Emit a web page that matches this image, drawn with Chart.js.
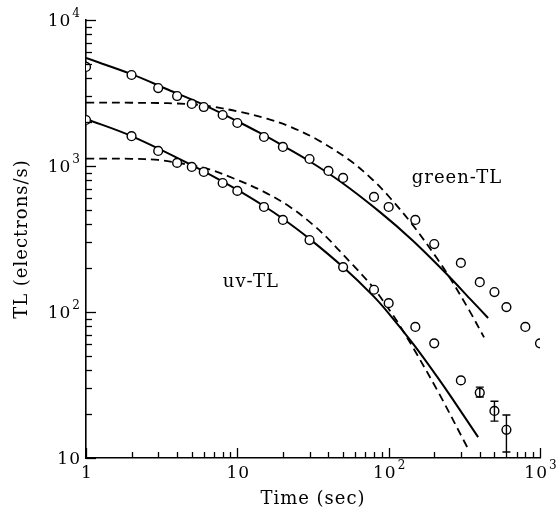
<!DOCTYPE html>
<html>
<head>
<meta charset="utf-8">
<title>TL decay</title>
<script src="https://cdn.jsdelivr.net/npm/chart.js@4.4.1/dist/chart.umd.min.js"></script>
<style>
    html, body { margin: 0; padding: 0; background: #fff; }
    #wrap { width: 557px; height: 511px; }
</style>
</head>
<body>
<div id="wrap"><canvas id="tl-chart"></canvas></div>
<script>
/* ===========================
   DATA
=========================== */

// measured green-TL (circles)
const greenTime = [1, 2, 3, 4, 5, 6, 8, 10, 15, 20, 30, 40, 50, 80, 100, 150, 200, 300, 400, 500, 600, 800, 1000];
const greenTL = [4770, 4200, 3420, 3015, 2660, 2535, 2235, 1970, 1580, 1350, 1117, 925, 828, 614, 524, 427, 292, 217, 160, 137, 108, 79, 61];

// measured uv-TL (circles)
const uvTime = [1, 2, 3, 4, 5, 6, 8, 10, 15, 20, 30, 50, 80, 100, 150, 200, 300, 400, 500, 600];
const uvTL = [2066, 1600, 1268, 1050, 985, 910, 765, 675, 524, 427, 311, 203, 142, 115, 79, 61, 34, 28, 21, 15.6];

// error bars on the late uv points
const uvErrTime = [400, 500, 600];
const uvErrLow = [26.2, 17.9, 11];
const uvErrHigh = [30.6, 24.5, 19.7];

// fitted curves (solid)
const greenFitTime = [1, 2, 3.5, 5.67, 10, 14.1, 20, 28.9, 47.7, 87.7, 144, 247, 345, 454];
const greenFit = [5490, 4256, 3327, 2692, 2025, 1683, 1379, 1105, 786, 483, 309, 178, 123, 91];
const uvFitTime = [1, 2, 5, 10, 15, 20, 30, 50, 79, 100, 146, 210, 266, 390];
const uvFit = [2100, 1602, 1013, 687, 532, 435, 317, 203, 129, 98, 60, 35.8, 25.1, 13.9];

// model curves (dashed)
const greenModelTime = [1, 2, 3, 4, 5.67, 7, 10.4, 15.7, 22, 33.6, 55.6, 79, 102, 144, 208, 254, 340, 427];
const greenModel = [2715, 2712, 2700, 2680, 2620, 2540, 2350, 2110, 1870, 1520, 1090, 799, 606, 395, 234, 171, 103, 67];
const uvModelTime = [1, 2, 3, 3.76, 6.3, 9.4, 14.9, 22.3, 31.8, 41, 46, 58, 79, 107.5, 119, 145, 215, 330];
const uvModel = [1125, 1120, 1100, 1065, 960, 824, 668, 524, 394, 308, 271, 210, 147, 94.4, 80, 57, 27.7, 11.9];

// axis decades: mantissa text and exponent text
const xDecades = [1, 10, 100, 1000];
const xDecadeBase = ["1", "10", "10", "10"];
const xDecadeExp = ["", "", "2", "3"];
const yDecades = [10, 100, 1000, 10000];
const yDecadeBase = ["10", "10", "10", "10"];
const yDecadeExp = ["", "2", "3", "4"];

// curve names written in the plot
const curveNames = ["green-TL", "uv-TL"];
const curveNameAt = [[283, 828], [12.3, 160]];

/* ===========================
   HELPERS
=========================== */

const FONT = "'DejaVu Serif', 'Liberation Serif', serif";
const BASE_FONT = "17px " + FONT;
const EXP_FONT = "12px " + FONT;

function pairs(xs, ys) {
    return xs.map((x, i) => ({ x: x, y: ys[i] }));
}

// all 1..9 multiples inside each decade
function logTicks(decades) {
    const out = [];
    for (let i = 0; i < decades.length - 1; i++) {
        for (let m = 1; m < 10; m++) out.push(decades[i] * m);
    }
    out.push(decades[decades.length - 1]);
    return out;
}

function circles(xs, ys) {
    return {
        data: pairs(xs, ys),
        showLine: false,
        pointStyle: "circle",
        pointRadius: 4.4,
        pointBorderWidth: 1.4,
        pointBorderColor: "#000",
        pointBackgroundColor: "#fff"
    };
}

function curve(xs, ys, dashed) {
    return {
        data: pairs(xs, ys),
        showLine: true,
        pointRadius: 0,
        borderColor: "#000",
        borderWidth: dashed ? 1.8 : 2,
        borderDash: dashed ? [8, 5] : [],
        tension: 0.35,
        fill: false
    };
}

// "10" with a raised exponent; anchor is "center" or "right"
function drawPowerLabel(ctx, base, exp, x, y, anchor) {
    ctx.font = BASE_FONT;
    const wb = ctx.measureText(base).width;
    ctx.font = EXP_FONT;
    const we = exp ? ctx.measureText(exp).width + 1 : 0;
    const total = wb + we;
    const left = anchor === "right" ? x - total : x - total / 2;

    ctx.textAlign = "left";
    ctx.textBaseline = "middle";
    ctx.font = BASE_FONT;
    ctx.fillText(base, left, y);
    if (exp) {
        ctx.font = EXP_FONT;
        ctx.fillText(exp, left + wb + 1, y - 8);
    }
}

/* ===========================
   PLUGINS
=========================== */

const paperPlugin = {
    id: "paper",
    beforeLayout(chart) {
        chart.ctx.letterSpacing = "1px";
    },
    beforeDraw(chart) {
        const ctx = chart.ctx;
        ctx.save();
        ctx.fillStyle = "#fff";
        ctx.fillRect(0, 0, chart.width, chart.height);
        ctx.restore();
        ctx.letterSpacing = "1px";
    }
};

// inward ticks and decade labels
const axisMarksPlugin = {
    id: "axisMarks",
    afterDraw(chart) {
        const ctx = chart.ctx;
        const xs = chart.scales.x;
        const ys = chart.scales.y;
        const area = chart.chartArea;

        ctx.save();
        ctx.strokeStyle = "#000";
        ctx.fillStyle = "#000";
        ctx.lineWidth = 1.3;
        ctx.letterSpacing = "1px";

        logTicks(xDecades).forEach(v => {
            const px = Math.round(xs.getPixelForValue(v)) + 0.5;
            const len = xDecades.includes(v) ? 10 : 6;
            ctx.beginPath();
            ctx.moveTo(px, area.bottom);
            ctx.lineTo(px, area.bottom - len);
            ctx.stroke();
        });

        logTicks(yDecades).forEach(v => {
            const py = Math.round(ys.getPixelForValue(v)) + 0.5;
            const len = yDecades.includes(v) ? 10 : 6;
            ctx.beginPath();
            ctx.moveTo(area.left, py);
            ctx.lineTo(area.left + len, py);
            ctx.stroke();
        });

        xDecades.forEach((v, i) => {
            drawPowerLabel(ctx, xDecadeBase[i], xDecadeExp[i],
                xs.getPixelForValue(v) + 1, area.bottom + 16, "center");
        });

        yDecades.forEach((v, i) => {
            drawPowerLabel(ctx, yDecadeBase[i], yDecadeExp[i],
                area.left - 5, ys.getPixelForValue(v) + 2, "right");
        });

        ctx.restore();
    }
};

const errorBarPlugin = {
    id: "errorBars",
    afterDatasetsDraw(chart) {
        const ctx = chart.ctx;
        const xs = chart.scales.x;
        const ys = chart.scales.y;

        ctx.save();
        ctx.strokeStyle = "#000";
        ctx.lineWidth = 1.4;

        uvErrTime.forEach((t, i) => {
            const px = xs.getPixelForValue(t);
            const lo = ys.getPixelForValue(uvErrLow[i]);
            const hi = ys.getPixelForValue(uvErrHigh[i]);
            ctx.beginPath();
            ctx.moveTo(px, lo);
            ctx.lineTo(px, hi);
            ctx.moveTo(px - 4, hi);
            ctx.lineTo(px + 4, hi);
            ctx.moveTo(px - 4, lo);
            ctx.lineTo(px + 4, lo);
            ctx.stroke();
        });

        ctx.restore();
    }
};

const curveNamePlugin = {
    id: "curveNames",
    afterDraw(chart) {
        const ctx = chart.ctx;
        const xs = chart.scales.x;
        const ys = chart.scales.y;

        ctx.save();
        ctx.fillStyle = "#000";
        ctx.font = "18px " + FONT;
        ctx.letterSpacing = "1px";
        ctx.textAlign = "center";
        ctx.textBaseline = "middle";

        curveNames.forEach((name, i) => {
            const [t, v] = curveNameAt[i];
            ctx.fillText(name, xs.getPixelForValue(t), ys.getPixelForValue(v));
        });

        ctx.restore();
    }
};

/* ===========================
   CHART
=========================== */

Chart.defaults.font.family = FONT;
Chart.defaults.color = "#000";

new Chart(document.getElementById("tl-chart"), {
    type: "scatter",

    data: {
        datasets: [
            circles(greenTime, greenTL),
            circles(uvTime, uvTL),
            curve(greenFitTime, greenFit, false),
            curve(uvFitTime, uvFit, false),
            curve(greenModelTime, greenModel, true),
            curve(uvModelTime, uvModel, true)
        ]
    },

    options: {
        responsive: true,
        maintainAspectRatio: false,
        animation: false,
        events: [],

        layout: {
            padding: { left: 0, right: 17, top: 20, bottom: 0 }
        },

        plugins: {
            legend: { display: false },
            tooltip: { enabled: false }
        },

        scales: {
            x: {
                type: "logarithmic",
                min: 1,
                max: 1000,
                afterBuildTicks(scale) {
                    scale.ticks = xDecades.map(v => ({ value: v }));
                },
                afterFit(scale) {
                    scale.height = 53;
                },
                grid: { display: false },
                border: { display: true, color: "#000", width: 1.6 },
                ticks: { display: false },
                title: {
                    display: true,
                    text: "Time (sec)",
                    font: { size: 18 },
                    padding: { top: 0, bottom: 1 }
                }
            },

            y: {
                type: "logarithmic",
                min: 10,
                max: 10000,
                afterBuildTicks(scale) {
                    scale.ticks = yDecades.map(v => ({ value: v }));
                },
                afterFit(scale) {
                    scale.width = 86;
                },
                grid: { display: false },
                border: { display: true, color: "#000", width: 1.6 },
                ticks: { display: false },
                title: {
                    display: true,
                    text: "TL (electrons/s)",
                    font: { size: 18 },
                    padding: { top: 12, bottom: 0 }
                }
            }
        }
    },

    plugins: [paperPlugin, axisMarksPlugin, errorBarPlugin, curveNamePlugin]
});
</script>
</body>
</html>
